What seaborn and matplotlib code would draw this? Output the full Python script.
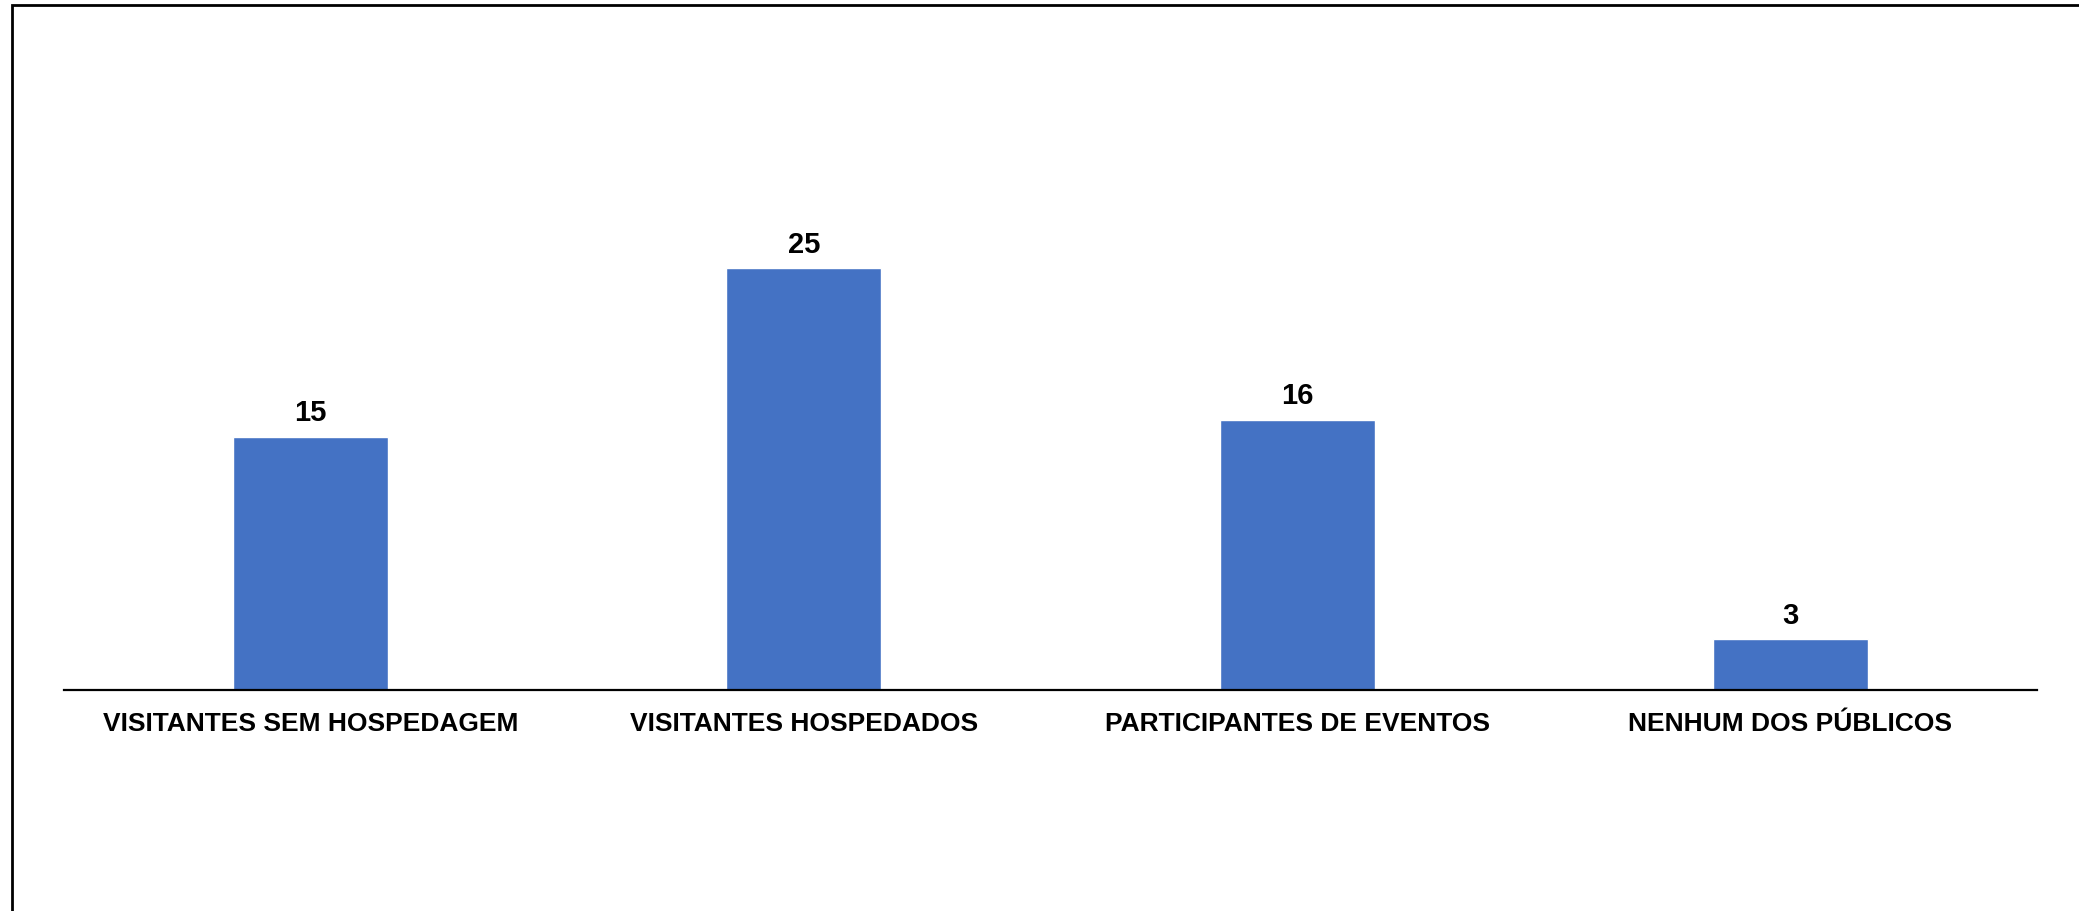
import matplotlib
matplotlib.use("Agg")
import matplotlib.pyplot as plt
import seaborn as sns
import pandas as pd
from matplotlib.patches import Rectangle

categories = ["VISITANTES SEM HOSPEDAGEM", "VISITANTES HOSPEDADOS",
              "PARTICIPANTES DE EVENTOS", "NENHUM DOS PÚBLICOS"]
values = [15, 25, 16, 3]

sns.set_theme(style="white")
plt.rcParams['font.family'] = ['Liberation Sans', 'DejaVu Sans']

df = pd.DataFrame({"cat": categories, "val": values})

fig = plt.figure(figsize=(20.79, 9.11), dpi=100)
W, H = 2079, 911
ax = fig.add_axes([64 / W, (H - 690) / H, 1973 / W, 506 / H])

sns.barplot(data=df, x="cat", y="val", color="#4472C4", saturation=1,
            width=0.314, ax=ax)

ax.set_xlim(-0.5, 3.5)
ax.set_ylim(0, 30)
ax.set_xlabel("")
ax.set_ylabel("")
ax.set_yticks([])
for s in ["top", "right", "left"]:
    ax.spines[s].set_visible(False)
ax.spines["bottom"].set_color("black")
ax.spines["bottom"].set_linewidth(1.6)
ax.tick_params(axis="x", length=0, pad=15.5)
for lbl in ax.get_xticklabels():
    lbl.set_fontsize(19)
    lbl.set_fontweight("bold")
    lbl.set_color("black")

for c in ax.containers:
    ax.bar_label(c, labels=[str(v) for v in values], padding=7,
                 fontsize=21, fontweight="bold", color="black")

# outer border (left and top visible, right/bottom cut off)
fig.patches.append(Rectangle((12 / W, -0.1), 1.2, (H - 5) / H + 0.1,
                             transform=fig.transFigure, fill=False,
                             edgecolor="black", linewidth=2))

fig.savefig("out.png", dpi=100, facecolor="white")
